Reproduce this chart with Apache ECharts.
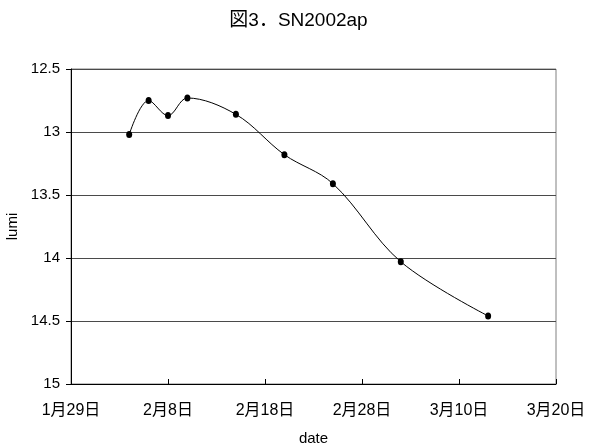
<!DOCTYPE html>
<html>
<head>
<meta charset="utf-8">
<script src="https://cdn.jsdelivr.net/npm/echarts@6/dist/echarts.min.js"></script>
<style>
  html, body { margin: 0; padding: 0; background: #fff; }
  #chart { width: 597px; height: 448px; }
</style>
</head>
<body>
<div id="chart"></div>
<script>
// Observation dates and magnitudes of SN2002ap
const dates = ['2002-02-04', '2002-02-06', '2002-02-08', '2002-02-10', '2002-02-15',
               '2002-02-20', '2002-02-25', '2002-03-04', '2002-03-13'];
const lumi = [13.02, 12.75, 12.87, 12.73, 12.86, 13.18, 13.41, 14.03, 14.46];

// Axis range: day offsets from 1月29日
const baseDate = '2002-01-29';
const xTicks = [0, 10, 20, 30, 40, 50];
const yTicks = [12.5, 13, 13.5, 14, 14.5, 15];

const DAY = 86400000;
const base = Date.parse(baseDate + 'T00:00:00Z');
const dayOffset = s => Math.round((Date.parse(s + 'T00:00:00Z') - base) / DAY);
const dayLabel = v => {
  const d = new Date(base + v * DAY);
  return (d.getUTCMonth() + 1) + '月' + d.getUTCDate() + '日';
};

const font = '"Liberation Sans", Arial, "Noto Sans CJK JP", sans-serif';

const chart = echarts.init(document.getElementById('chart'), null, { renderer: 'canvas' });
chart.setOption({
  animation: false,
  backgroundColor: '#fff',
  title: {
    text: '図3．SN2002ap',
    left: 'center',
    top: 6,
    textStyle: { fontFamily: font, fontSize: 19, fontWeight: 'normal', color: '#000' }
  },
  grid: {
    left: 71, right: 41, top: 69, bottom: 64,
    containLabel: false,
    outerBoundsMode: 'none',
    show: true, borderColor: '#808080', borderWidth: 1
  },
  xAxis: {
    type: 'value',
    min: xTicks[0], max: xTicks[xTicks.length - 1], interval: 10,
    name: 'date', nameLocation: 'middle', nameGap: 47,
    nameTextStyle: { fontFamily: font, fontSize: 15, color: '#000' },
    axisLine: { lineStyle: { color: '#000', width: 1 } },
    axisTick: { inside: true, length: 5, lineStyle: { color: '#000' } },
    axisLabel: { formatter: dayLabel, margin: 19, fontFamily: font, fontSize: 16, color: '#000' },
    splitLine: { show: false }
  },
  yAxis: {
    type: 'value', inverse: true,
    min: yTicks[0], max: yTicks[yTicks.length - 1], interval: 0.5,
    name: 'lumi', nameLocation: 'middle', nameGap: 44, nameRotate: 90,
    nameTextStyle: { fontFamily: font, fontSize: 15, color: '#000' },
    axisLine: { show: true, lineStyle: { color: '#000', width: 1 } },
    axisTick: { show: true, length: 5, lineStyle: { color: '#000' } },
    axisLabel: { margin: 11, fontFamily: font, fontSize: 15, color: '#000' },
    splitLine: { show: true, lineStyle: { color: '#4a4a4a', width: 1 } }
  },
  series: [{
    type: 'line',
    data: dates.map((d, i) => [dayOffset(d), lumi[i]]),
    smooth: 0.35,
    symbol: 'circle',
    symbolSize: [6, 7],
    itemStyle: { color: '#000' },
    lineStyle: { color: '#000', width: 1 }
  }]
});
</script>
</body>
</html>
